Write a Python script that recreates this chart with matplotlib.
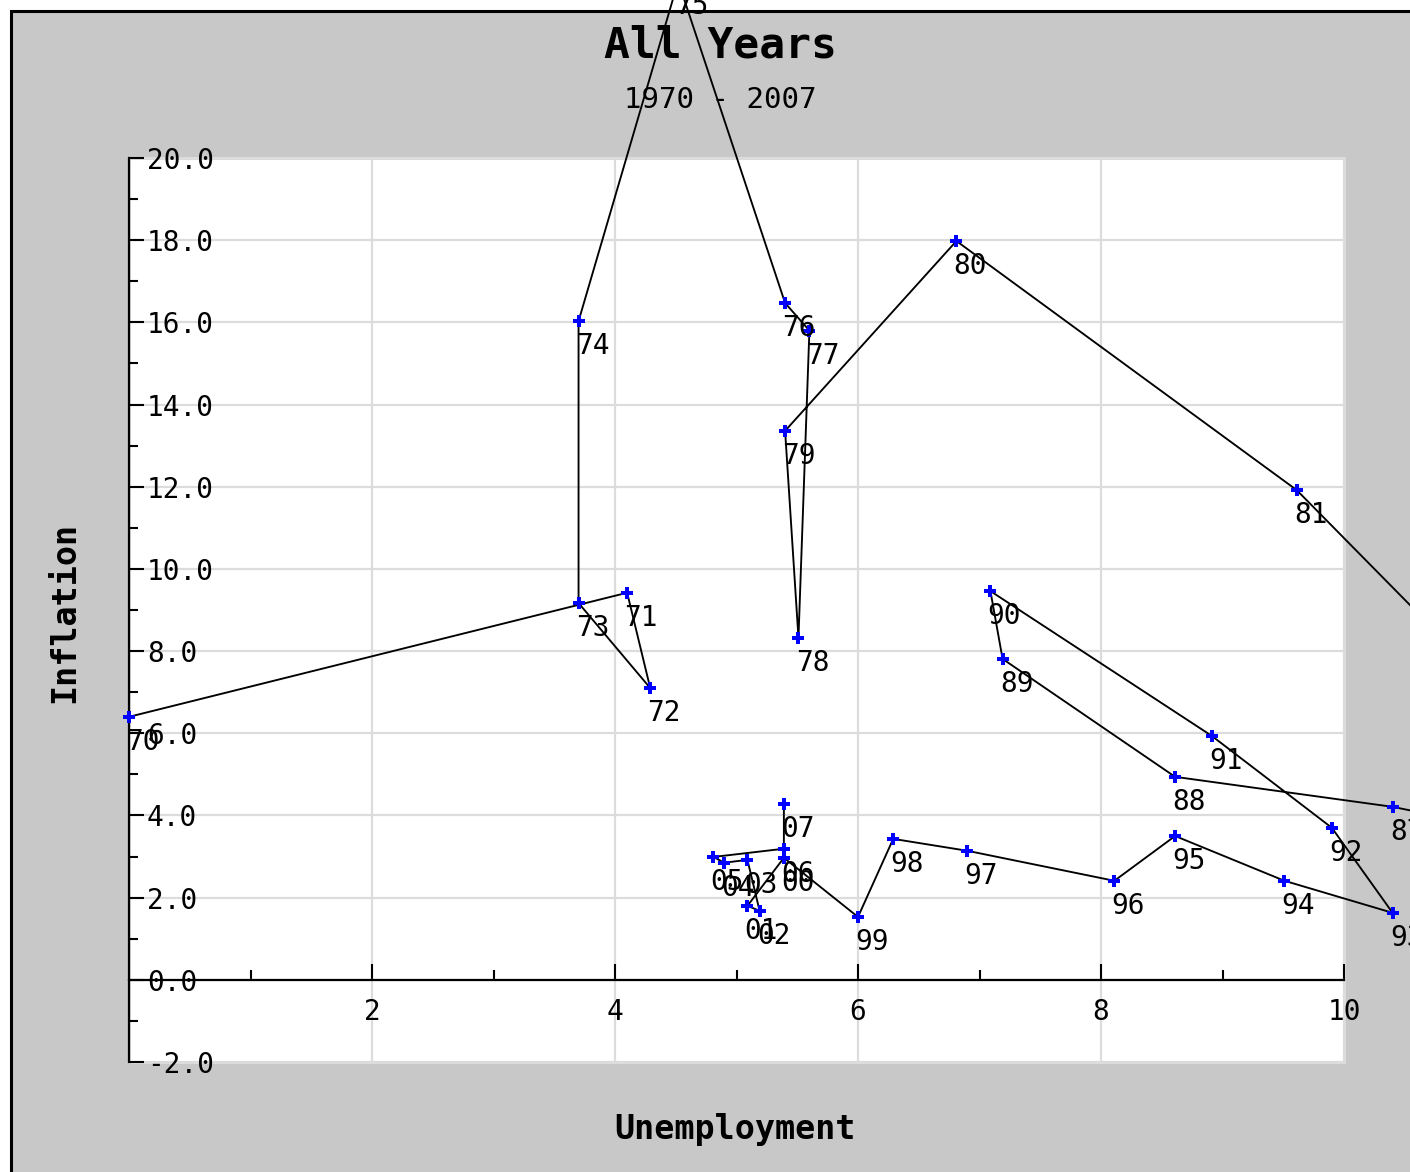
import numpy as np
from matplotlib import pyplot as plt
from matplotlib.patches import Rectangle
from matplotlib.ticker import FormatStrFormatter

# year labels and (unemployment, inflation)
years = ['70', '71', '72', '73', '74', '75', '76', '77', '78', '79',
         '80', '81', '82', '83', '84', '85', '86', '87', '88', '89',
         '90', '91', '92', '93', '94', '95', '96', '97', '98', '99',
         '00', '01', '02', '03', '04', '05', '06', '07']
unemployment = [0.0, 4.10, 4.29, 3.70, 3.70, 4.52, 5.40, 5.60, 5.51, 5.40,
                6.81, 9.61, 11.0, 11.8, 12.0, 11.6, 11.0, 10.40, 8.61, 7.19,
                7.09, 8.91, 9.90, 10.40, 9.51, 8.61, 8.11, 6.90, 6.29, 6.00,
                5.39, 5.09, 5.19, 5.09, 4.90, 4.81, 5.39, 5.39]
inflation = [6.40, 9.42, 7.10, 9.17, 16.03, 24.3, 16.47, 15.80, 8.32, 13.36,
             17.98, 11.92, 7.75, 6.0, 5.0, 4.5, 3.85, 4.21, 4.94, 7.81,
             9.46, 5.94, 3.70, 1.63, 2.41, 3.50, 2.41, 3.14, 3.43, 1.53,
             2.97, 1.80, 1.68, 2.92, 2.85, 2.99, 3.19, 4.28]

W, H = 1410, 1172
MONO = 'DejaVu Sans Mono'

fig = plt.figure(figsize=(W / 100, H / 100), dpi=100)
fig.patch.set_facecolor('white')
fig.add_artist(Rectangle((10.5 / W, -0.1), 1.2, 1.1 - 10.5 / H,
                         transform=fig.transFigure, facecolor='#c8c8c8',
                         edgecolor='black', linewidth=2.2, zorder=-10))

ax = fig.add_axes([129 / W, 1 - 1062 / H, (1344 - 129) / W, (1062 - 158) / H])
ax.set_facecolor('white')
ax.set_xlim(0, 10)
ax.set_ylim(-2, 20)

ax.spines['top'].set_visible(False)
ax.spines['right'].set_visible(False)
ax.spines['left'].set_linewidth(1.6)
ax.spines['bottom'].set_linewidth(1.6)
ax.spines['bottom'].set_position(('data', 0))
ax.add_patch(Rectangle((0, 0), 1, 1, transform=ax.transAxes, fill=False,
                       edgecolor='#dcdcdc', linewidth=2.2, clip_on=False, zorder=0.5))

ax.set_xticks([2, 4, 6, 8, 10])
ax.set_xticks([1, 3, 5, 7, 9], minor=True)
ax.set_yticks(np.arange(-2, 21, 2))
ax.set_yticks(np.arange(-1, 20, 2), minor=True)
ax.yaxis.set_major_formatter(FormatStrFormatter('%.1f'))
ax.grid(True, which='major', color='#dcdcdc', linewidth=1.6)
ax.set_axisbelow(True)

ax.tick_params(axis='x', which='major', direction='in', length=11.5, width=1.5,
               pad=13, labelsize=20)
ax.tick_params(axis='x', which='minor', direction='in', length=7, width=1.5)
ax.tick_params(axis='y', which='major', direction='in', length=10.5, width=1.5,
               pad=-13, labelsize=20)
ax.tick_params(axis='y', which='minor', direction='in', length=6.5, width=1.5)
for lab in ax.get_xticklabels() + ax.get_yticklabels():
    lab.set_family(MONO)
plt.setp(ax.get_yticklabels(), ha='left')

ax.plot(unemployment, inflation, color='black', linewidth=1.35, clip_on=False, zorder=3)
ax.plot(unemployment, inflation, 'P', color='#0000ff', markersize=8.5, markeredgewidth=0,
        clip_on=False, zorder=4)
for yr, x, y in zip(years, unemployment, inflation):
    ax.annotate(yr, (x, y), xytext=(-2, -8), textcoords='offset points',
                ha='left', va='top', fontsize=20, family=MONO, annotation_clip=False,
                zorder=5)

fig.text(720 / W, 1 - 46 / H, 'All Years', ha='center', va='center',
         fontsize=31, fontweight='bold', family=MONO)
fig.text(720 / W, 1 - 100 / H, '1970 - 2007', ha='center', va='center',
         fontsize=21, family=MONO)
fig.text(65 / W, 1 - 612 / H, 'Inflation', ha='center', va='center', rotation=90,
         fontsize=24, fontweight='bold', family=MONO)
fig.text(735 / W, 1 - 1130 / H, 'Unemployment', ha='center', va='center',
         fontsize=24, fontweight='bold', family=MONO)

fig.savefig('out.png', dpi=100)
